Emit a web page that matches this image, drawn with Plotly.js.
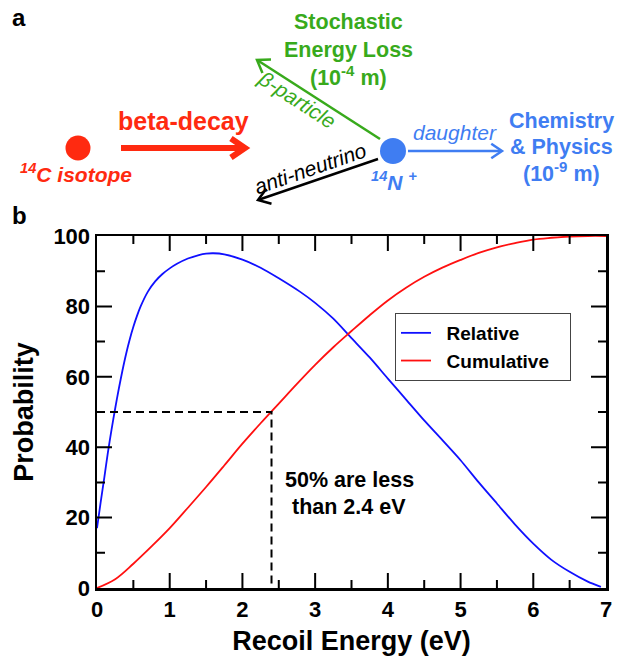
<!DOCTYPE html>
<html>
<head>
<meta charset="utf-8">
<script src="https://cdn.plot.ly/plotly-3.0.1.min.js"></script>
<style>html,body{margin:0;padding:0;background:#fff;}#chart{width:625px;height:656px;}</style>
</head>
<body>
<div id="chart"></div>
<script>
// ---- data ----
var relEnergy = [0, 0.05, 0.1, 0.15, 0.2, 0.25, 0.3, 0.35, 0.4, 0.45, 0.5, 0.55, 0.6, 0.7, 0.8, 0.9, 1.0, 1.1, 1.25, 1.4, 1.5, 1.6, 1.75, 2.0, 2.25, 2.5, 2.79, 3.0, 3.25, 3.5, 3.75, 4.0, 4.26, 4.5, 4.75, 5.0, 5.25, 5.5, 5.75, 6.0, 6.25, 6.5, 6.75, 6.93];
var relProb   = [17, 24.3, 31.3, 38.5, 45, 51, 56.6, 61.8, 66.5, 70.6, 74.2, 77.3, 80, 84.2, 87.1, 89.2, 90.8, 92.1, 93.6, 94.6, 95.0, 95.1, 94.8, 93.3, 91, 88, 84.2, 81, 76.5, 71, 65.5, 59.5, 53.3, 47.6, 42, 36.3, 30, 24, 18, 12.6, 8, 4.6, 1.8, 0.3];
var cumEnergy = [0, 0.25, 0.5, 0.75, 1.0, 1.25, 1.5, 1.75, 2.0, 2.25, 2.5, 2.75, 3.0, 3.25, 3.5, 3.75, 4.0, 4.25, 4.5, 4.75, 5.0, 5.25, 5.5, 5.75, 6.0, 6.25, 6.5, 6.75, 7.0];
var cumProb   = [0, 2.5, 6.9, 11.8, 17, 22.8, 28.7, 34.8, 41, 46.8, 52.4, 58, 63.4, 68.4, 73, 77.5, 81.7, 85.3, 88.4, 91, 93.2, 95.2, 96.8, 98, 99, 99.5, 99.85, 100, 100];
var seriesNames = ['Relative', 'Cumulative'];
var medianEnergy = 2.4;
var medianProb = 50;
var xTickVals = [0, 1, 2, 3, 4, 5, 6, 7];
var yTickVals = [0, 20, 40, 60, 80, 100];

// ---- layout helpers (pixel -> paper) ----
var L = 97, R = 19, T = 236, B = 68, W = 625, H = 656;
var PW = W - L - R, PH = H - T - B;
function px(x) { return (x - L) / PW; }
function py(y) { return (H - B - y) / PH; }
var FONT = 'Liberation Sans, Arial, Helvetica, sans-serif';

function arrowShapes(x0, y0, x1, y1, head, color, width) {
  var ang = Math.atan2(y1 - y0, x1 - x0);
  var a1 = ang + Math.PI - 0.6, a2 = ang + Math.PI + 0.6;
  var hx1 = x1 + head * Math.cos(a1), hy1 = y1 + head * Math.sin(a1);
  var hx2 = x1 + head * Math.cos(a2), hy2 = y1 + head * Math.sin(a2);
  var line = {type: 'line', xref: 'paper', yref: 'paper', x0: px(x0), y0: py(y0), x1: px(x1 - 1.5 * Math.cos(ang)), y1: py(y1 - 1.5 * Math.sin(ang)), line: {color: color, width: width}};
  var hd = {type: 'path', xref: 'paper', yref: 'paper',
    path: 'M ' + px(hx1) + ' ' + py(hy1) + ' L ' + px(x1) + ' ' + py(y1) + ' L ' + px(hx2) + ' ' + py(hy2),
    line: {color: color, width: width}};
  return [line, hd];
}
function circle(cx, cy, r, color) {
  return {type: 'circle', xref: 'paper', yref: 'paper', x0: px(cx - r), x1: px(cx + r), y0: py(cy + r), y1: py(cy - r),
    fillcolor: color, line: {width: 0}};
}
function label(text, x, y, size, color, extra) {
  var a = {text: text, xref: 'paper', yref: 'paper', x: px(x), y: py(y), xanchor: 'center', yanchor: 'middle',
    showarrow: false, font: {family: FONT, size: size, color: color}};
  if (extra) for (var k in extra) a[k] = extra[k];
  return a;
}

var RED = '#ff2a10', GREEN = '#38aa1c', BLUE = '#3f7df2';

var shapes = [];
shapes.push(circle(78, 148, 12.5, RED));
shapes.push(circle(393, 151, 13, BLUE));
shapes = shapes.concat(arrowShapes(121, 148, 245, 148, 17, RED, 6));
shapes = shapes.concat(arrowShapes(380, 139, 257, 60, 14, GREEN, 2.5));
shapes = shapes.concat(arrowShapes(378, 159, 258, 200, 14, '#000', 2.5));
shapes = shapes.concat(arrowShapes(408, 151, 502, 151, 13, BLUE, 2.5));

// ---- inward tick marks on all four sides (major + minor), in paper coords, from the tick arrays ----
var xMax = xTickVals[xTickVals.length - 1], yMax = yTickVals[yTickVals.length - 1];
var xStep = xTickVals[1] - xTickVals[0], yStep = yTickVals[1] - yTickVals[0];
var MAJ = 15, MIN = 8;
function tickPath(vals, axis, len) {
  var d = '';
  vals.forEach(function (v) {
    if (axis === 'x') {
      var f = v / xMax, hy = len / PH;
      d += 'M ' + f + ' 0 L ' + f + ' ' + hy + ' M ' + f + ' 1 L ' + f + ' ' + (1 - hy) + ' ';
    } else {
      var g = v / yMax, hx = len / PW;
      d += 'M 0 ' + g + ' L ' + hx + ' ' + g + ' M 1 ' + g + ' L ' + (1 - hx) + ' ' + g + ' ';
    }
  });
  return {type: 'path', xref: 'paper', yref: 'paper', layer: 'above', path: d.trim(), line: {color: '#000', width: 2}};
}
shapes.push(tickPath(xTickVals.slice(1, -1), 'x', MAJ));
shapes.push(tickPath(yTickVals.slice(1, -1), 'y', MAJ));
shapes.push(tickPath(xTickVals.slice(0, -1).map(function (v) { return v + xStep / 2; }), 'x', MIN));
shapes.push(tickPath(yTickVals.slice(0, -1).map(function (v) { return v + yStep / 2; }), 'y', MIN));

var annotations = [
  label('<b>a</b>', 19, 17, 24, '#000'),
  label('<b>b</b>', 19, 215, 24, '#000'),
  label('<b>beta-decay</b>', 183, 121, 25, RED),
  label('<b><i><sup>14</sup>C isotope</i></b>', 76, 173, 21, RED),
  label('<b>Stochastic</b>', 348, 22, 21.5, GREEN),
  label('<b>Energy Loss</b>', 348, 50, 21.5, GREEN),
  label('<b>(10<sup>-4</sup> m)</b>', 348, 76, 21.5, GREEN),
  label('<i>β-particle</i>', 297, 100, 21, GREEN, {textangle: 33}),
  label('<i>anti-neutrino</i>', 310, 169, 21, '#000', {textangle: -19}),
  label('<b><i><sup>14</sup>N <sup>+</sup></i></b>', 394, 181, 21, BLUE),
  label('<i>daughter</i>', 455, 133, 21, BLUE),
  label('<b>Chemistry</b>', 561, 121, 21.5, BLUE),
  label('<b>& Physics</b>', 561, 147, 21.5, BLUE),
  label('<b>(10<sup>-9</sup> m)</b>', 561, 172, 21.5, BLUE),
  label('<b>50% are less</b>', 349, 480, 21.5, '#000'),
  label('<b>than 2.4 eV</b>', 349, 507, 21.5, '#000')
];

var traces = [
  {x: relEnergy, y: relProb, name: '\u00a0\u00a0' + seriesNames[0], type: 'scatter', mode: 'lines',
   line: {color: '#1010ff', width: 1.8, shape: 'spline', smoothing: 0.7}},
  {x: cumEnergy, y: cumProb, name: '\u00a0\u00a0' + seriesNames[1] + '\u00a0\u00a0\u00a0', type: 'scatter', mode: 'lines',
   line: {color: '#ff1010', width: 1.8, shape: 'spline', smoothing: 1}},
  {x: [0, medianEnergy, medianEnergy], y: [medianProb, medianProb, 0], type: 'scatter', mode: 'lines',
   showlegend: false, hoverinfo: 'skip', line: {color: '#000', width: 2, dash: '8px,5px'}}
];

var tickFont = {family: FONT, size: 22, color: '#000', weight: 'bold'};

var layout = {
  width: W, height: H,
  margin: {l: L, r: R, t: T, b: B, pad: 0},
  paper_bgcolor: '#fff', plot_bgcolor: '#fff',
  showlegend: true,
  legend: {x: px(395), y: py(313), xanchor: 'left', yanchor: 'top', bgcolor: '#fff', bordercolor: '#444', borderwidth: 1,
    font: {family: FONT, size: 19, color: '#000', weight: 'bold'}, tracegroupgap: 0},
  xaxis: {
    range: [0, xMax], tickmode: 'array', tickvals: xTickVals, ticktext: xTickVals.map(String),
    showgrid: false, zeroline: false, showline: true, linecolor: '#000', linewidth: 2.5, mirror: true,
    ticks: '', tickfont: tickFont,
    title: {text: 'Recoil Energy (eV)', font: {family: FONT, size: 27, color: '#000', weight: 'bold'}, standoff: 15}
  },
  yaxis: {
    range: [0, yMax], tickmode: 'array', tickvals: yTickVals, ticktext: yTickVals.map(String),
    showgrid: false, zeroline: false, showline: true, linecolor: '#000', linewidth: 2.5, mirror: true,
    ticks: '', tickfont: tickFont,
    title: {text: 'Probability', font: {family: FONT, size: 27, color: '#000', weight: 'bold'}, standoff: 12}
  },
  shapes: shapes,
  annotations: annotations
};

Plotly.newPlot('chart', traces, layout, {displayModeBar: false, staticPlot: true});
</script>
</body>
</html>
